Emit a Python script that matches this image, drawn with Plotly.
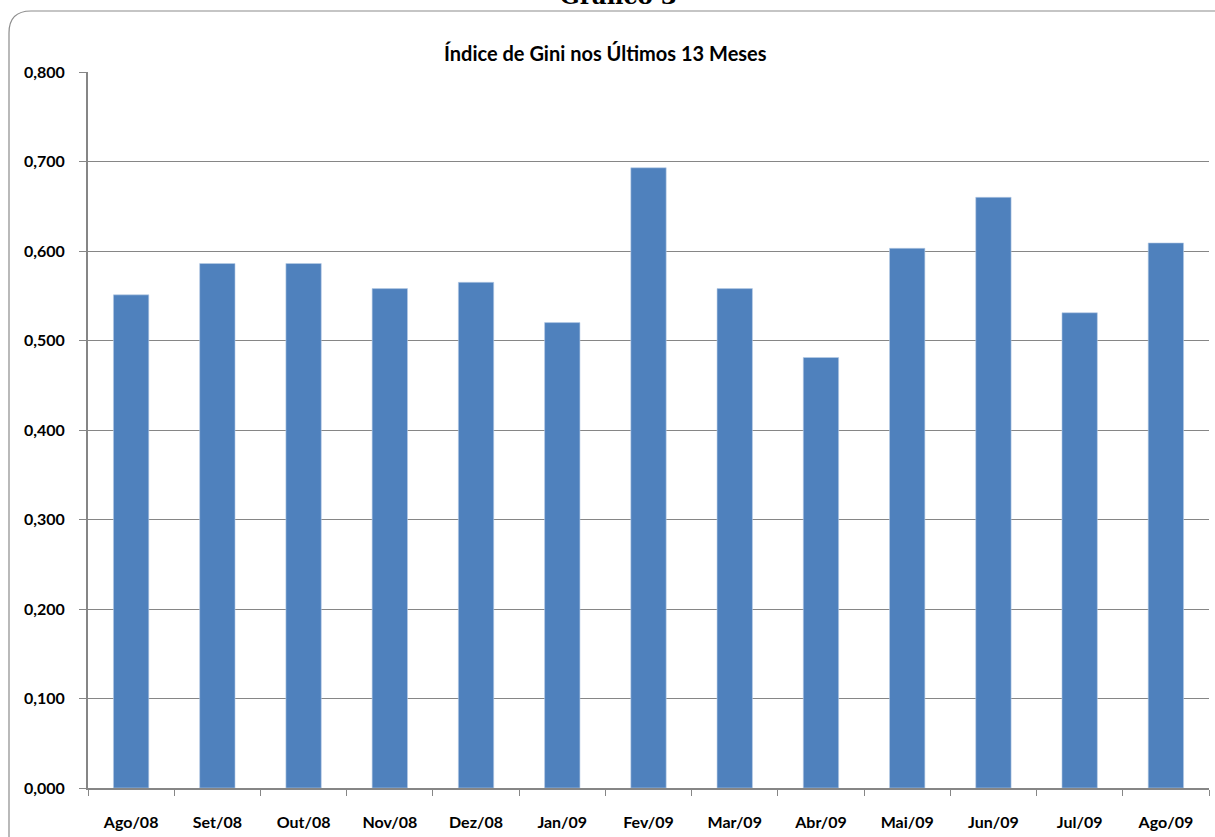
import plotly.graph_objects as go

# Dados
meses = ['Ago/08', 'Set/08', 'Out/08', 'Nov/08', 'Dez/08', 'Jan/09', 'Fev/09',
         'Mar/09', 'Abr/09', 'Mai/09', 'Jun/09', 'Jul/09', 'Ago/09']
gini = [0.551, 0.586, 0.586, 0.558, 0.565, 0.520, 0.693,
        0.558, 0.481, 0.603, 0.660, 0.531, 0.609]
y_ticks = [0.0, 0.1, 0.2, 0.3, 0.4, 0.5, 0.6, 0.7, 0.8]

W, H = 1215, 837
M = dict(l=88, r=6, t=72, b=49)
PW = W - M['l'] - M['r']
PH = H - M['t'] - M['b']


def px_x(x):
    return (x - M['l']) / PW


def px_y(y):
    return (H - M['b'] - y) / PH


AXIS = '#868686'
FONT = 'Lato, Open Sans, sans-serif'

fig = go.Figure(go.Bar(
    x=meses,
    y=gini,
    marker=dict(color='#4F81BD', line=dict(color='#B9CDE5', width=0.6)),
    hovertemplate='%{x}<br>%{y:.3f}<extra></extra>'
))

# moldura arredondada (canto superior esquerdo)
x0, y0, r = px_x(9), px_y(11), 22
path = (f'M {x0},{px_y(840)} L {x0},{px_y(11 + r)} '
        f'Q {x0},{y0} {px_x(9 + r)},{y0} L {px_x(1230)},{y0}')

fig.update_layout(
    width=W, height=H,
    margin=M,
    paper_bgcolor='white',
    plot_bgcolor='white',
    separators=',.',
    showlegend=False,
    bargap=0.59,
    font=dict(family=FONT, color='black'),
    shapes=[dict(type='path', path=path, xref='paper', yref='paper',
                 line=dict(color='#8C8C8C', width=1.2))],
    annotations=[
        dict(text='<b>Índice de Gini nos Últimos 13 Meses</b>',
             x=px_x(605), y=px_y(53), xref='paper', yref='paper',
             xanchor='center', yanchor='middle',
             showarrow=False, font=dict(size=20, family=FONT)),
        dict(text='<b>Gráfico 3</b>',
             x=px_x(618), y=px_y(11), xref='paper', yref='paper',
             xanchor='center', yanchor='bottom',
             showarrow=False, font=dict(size=23, family='DejaVu Serif')),
    ],
)

fig.update_yaxes(
    range=[0, 0.8],
    tickvals=y_ticks,
    tickformat='.3f',
    tickfont=dict(size=16, weight='bold'),
    ticks='outside', ticklen=7, tickcolor=AXIS,
    showgrid=True, gridcolor=AXIS, gridwidth=1,
    showline=True, linecolor=AXIS, linewidth=2,
    zeroline=False,
    ticklabelstandoff=11,
)
fig.update_xaxes(
    type='category',
    tickfont=dict(size=16, weight='bold'),
    ticks='outside', ticklen=6, tickcolor=AXIS, tickson='boundaries',
    showline=True, linecolor=AXIS, linewidth=2,
    ticklabelstandoff=19,
)

# sem margem do <body>, para a figura começar no canto da página
fig.write_html('out.html', config={'displayModeBar': False},
               post_script="document.body.style.margin='0';")
